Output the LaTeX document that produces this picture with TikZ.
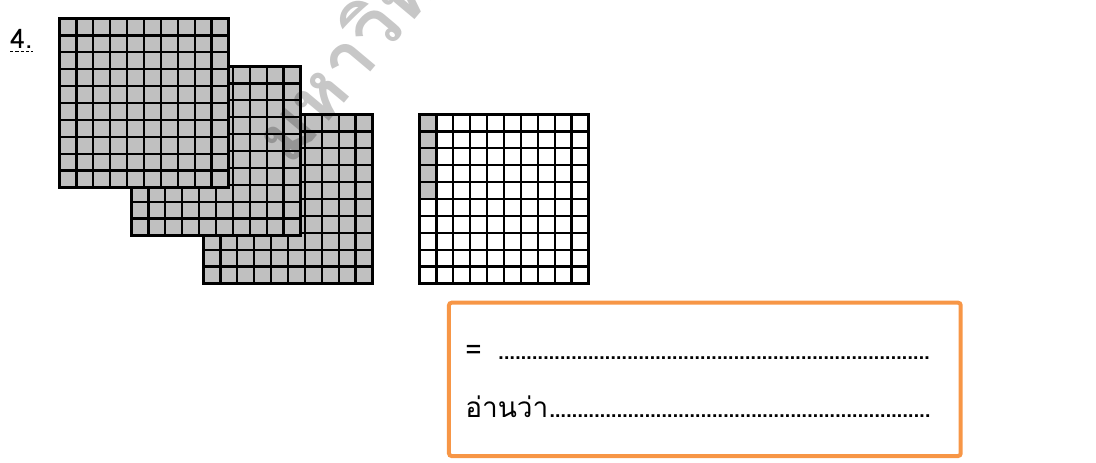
\documentclass[tikz,border=0pt]{standalone}
\usepackage{fontspec}
\setmainfont{Loma}[Script=Thai]
\usetikzlibrary{positioning,calc}

\definecolor{cellgray}{HTML}{C0C0C0}
\definecolor{boxorange}{HTML}{F79646}
\newcommand{\answerdots}{\leaders\hbox to 4.2pt{\hss.\hss}\hfill}
% inner lines of a ten-by-ten sheet
\newcommand{\hundredlines}[1]{%
  \foreach \k in {1,...,9}{
    \draw[cellgrid] ($(#1.north west)!\k/10!(#1.north east)$) -- ($(#1.south west)!\k/10!(#1.south east)$);
    \draw[cellgrid] ($(#1.north west)!\k/10!(#1.south west)$) -- ($(#1.north east)!\k/10!(#1.south east)$);
  }}

\begin{document}
\begin{tikzpicture}[
  x=0.75pt, y=-0.75pt,
  sheet/.style={
    draw,
    line width=2pt,
    inner sep=0pt,
    outer sep=0pt,
    minimum size=126.75pt
  },
  cellgrid/.style={
    line width=1.7pt
  },
  answertext/.style={
    anchor=base west,
    inner sep=0pt,
    font=\fontsize{21pt}{24pt}\selectfont
  }
]
\useasboundingbox (0,0) rectangle (1096,462);

\node[anchor=base west, inner sep=0pt, font=\fontsize{20pt}{22pt}\selectfont] (qnum) at (10,48) {4.};
\draw[dash pattern=on 2.5pt off 1.5pt, line width=0.9pt]
  ([yshift=-2.5pt]qnum.base west) -- ([yshift=-2.5pt]qnum.base east);

% three full hundreds
\node[sheet, fill=cellgray] (sheetC) at (288,199) {};
\hundredlines{sheetC}
\node[sheet, fill=cellgray] (sheetB) at (216,151) {};
\hundredlines{sheetB}
\node[sheet, fill=cellgray] (sheetA) at (144,103) {};
\hundredlines{sheetA}

% five hundredths
\node[sheet, fill=white] (sheetD) at (504,199) {};
\fill[cellgray] (sheetD.north west) rectangle ($(sheetD.north west)+(16.9,84.5)$);
\hundredlines{sheetD}
\node[sheet, fill=none] at (sheetD) {};

% answer box
\node[draw=boxorange, line width=3pt, rounded corners=2pt,
  minimum width=383.8pt, minimum height=115pt] (answerbox) at (704.85,379.35) {};
\node[answertext] (eqsign) at (465,359) {=};
\node[answertext] (eqdots) at (498,359) {\hbox to 324pt{\answerdots}};
\node[answertext] (readline) at (465,417) {\hbox to 352.5pt{อ่านว่า\answerdots}};

% watermark
\node[anchor=base west, rotate=50, text=black, text opacity=0.22, inner sep=0pt,
  font=\fontsize{56pt}{60pt}\selectfont\bfseries] (watermark) at (290,168) {มหาวิทยาลัย};
\end{tikzpicture}
\end{document}
